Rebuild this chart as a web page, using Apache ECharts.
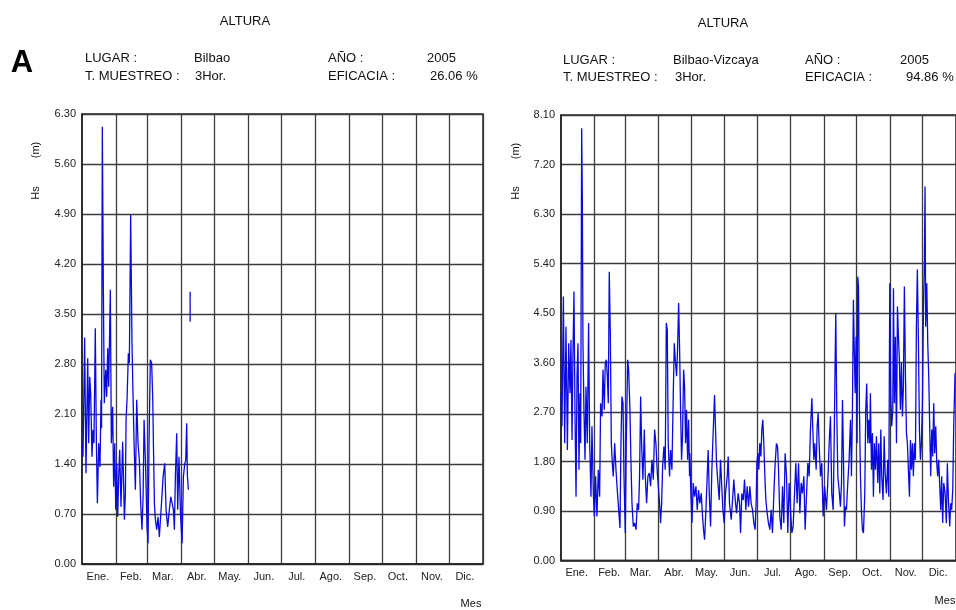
<!DOCTYPE html>
<html>
<head>
<meta charset="utf-8">
<script src="https://cdn.jsdelivr.net/npm/echarts@6/dist/echarts.min.js"></script>
<style>html,body{margin:0;padding:0;background:#fff}#c{width:956px;height:610px}</style>
</head>
<body>
<div id="c"></div>
<script>
// ---- Data ----
const months = ['Ene.','Feb.','Mar.','Abr.','May.','Jun.','Jul.','Ago.','Sep.','Oct.','Nov.','Dic.'];
const monthDays = [31,28,31,30,31,30,31,31,30,31,30,31];

// Left chart: Bilbao (day of year, Hs in m)
const leftDays = [0.0,0.9,2.4,3.6,5.2,6.1,7.0,7.9,9.1,10.0,10.9,12.1,13.1,14.0,15.2,16.4,17.3,17.8,18.5,19.4,20.3,21.6,22.5,23.4,24.3,25.8,26.7,27.9,28.8,29.8,30.7,31.6,32.5,33.4,34.3,35.5,37.0,38.6,39.5,40.1,41.0,42.2,43.1,44.3,45.5,46.4,47.4,48.6,49.8,51.0,52.2,53.4,54.6,55.6,56.5,57.7,59.2,60.1,61.0,62.2,63.4,64.4,65.0,65.9,66.8,68.0,69.2,70.4,71.6,72.9,73.8,75.3,76.5,78.0,79.5,80.8,82.0,83.2,84.1,85.0,86.2,87.1,88.3,89.6,91.1,92.3,93.5,94.4,95.3,95.9,96.8,97.6,98.4,98.45];
const leftHs = [1.69,1.50,3.17,1.27,2.88,1.69,2.62,2.39,1.50,1.88,1.69,3.30,1.69,0.85,1.69,1.36,2.30,1.90,6.12,3.93,2.25,2.72,2.34,3.02,2.48,3.84,1.69,2.20,1.08,1.69,0.76,1.41,0.66,1.22,1.60,0.80,1.71,0.62,0.99,2.02,2.30,2.95,2.81,4.89,3.09,2.39,1.69,1.04,2.30,1.69,1.46,0.85,0.48,0.94,2.02,1.46,0.52,0.29,1.69,2.86,2.81,2.30,1.69,0.85,0.62,0.48,0.66,0.38,0.66,0.99,1.22,1.41,0.76,0.52,0.76,0.94,0.94,0.76,0.48,1.22,1.83,0.76,1.50,0.71,0.29,1.22,1.40,1.45,1.97,1.25,1.04,null,3.81,3.39];

// Right chart: Bilbao-Vizcaya (day of year, Hs in m)
const rightDays = [0.0,0.9,2.2,3.4,4.6,5.9,7.1,8.3,9.2,10.2,11.1,12.0,12.9,13.9,14.8,15.7,16.6,17.5,18.2,19.1,19.7,20.3,21.2,22.2,23.1,24.3,25.5,26.5,27.7,28.6,29.9,30.8,32.0,33.2,34.5,35.7,36.6,37.9,38.8,40.0,40.9,41.9,42.8,43.7,44.6,45.6,46.5,47.4,48.3,49.6,50.8,52.0,53.3,54.5,55.4,56.3,57.3,58.2,59.4,60.3,61.6,62.5,63.7,64.6,65.6,66.8,68.0,69.3,70.5,71.7,72.6,73.6,74.5,75.7,77.0,77.9,79.1,80.3,81.6,82.8,84.0,85.3,86.5,87.7,89.0,90.2,91.1,92.0,93.0,93.9,95.1,96.3,97.3,98.2,99.1,100.3,101.3,102.5,103.7,104.7,105.6,106.8,107.7,108.7,109.6,110.5,111.4,112.3,113.3,114.2,115.1,116.0,117.0,117.9,118.8,
119.1,120.0,121.0,122.2,123.4,124.7,125.9,127.1,128.3,129.6,130.8,131.7,132.7,133.9,135.1,136.0,137.0,138.2,139.4,140.7,141.9,142.8,143.7,145.0,146.2,147.4,148.4,149.6,150.8,152.0,153.6,154.5,155.7,157.3,158.5,159.7,161.0,162.2,163.7,165.0,165.9,167.1,168.4,169.6,170.8,172.0,173.3,174.5,175.7,177.0,178.2,179.4,180.4,181.0,181.9,182.8,183.7,184.7,185.6,186.5,187.4,188.4,189.3,190.5,191.7,193.0,194.2,195.4,196.7,197.9,199.1,200.1,201.0,202.2,203.5,204.7,205.9,207.1,208.4,209.6,210.8,212.1,213.3,214.5,215.8,217.0,218.2,219.5,220.7,221.9,223.1,224.4,225.6,226.8,228.1,229.3,230.5,231.8,232.7,233.6,234.5,235.8,236.7,237.6,238.5,239.8,241.0,242.2,243.5,
244.1,245.3,246.5,247.8,249.0,250.2,251.5,252.4,253.3,253.9,254.8,255.8,257.0,258.2,259.2,260.1,261.0,261.9,262.9,263.8,265.0,266.2,267.5,268.4,269.3,270.2,270.9,271.8,272.7,273.6,274.2,274.9,275.8,276.7,277.6,278.5,279.5,280.7,281.6,282.5,283.5,284.4,285.3,285.9,286.9,287.8,288.7,289.6,290.6,291.5,292.7,293.6,294.6,295.5,296.4,297.6,298.6,299.5,300.7,301.9,302.9,303.8,304.7,305.6,306.6,307.2,308.1,309.0,310.0,310.9,311.8,312.7,313.6,314.6,315.5,316.4,317.3,318.3,319.2,320.1,321.0,322.0,322.9,323.8,324.7,325.6,326.6,327.5,328.4,329.3,330.3,331.2,332.1,333.0,334.0,334.9,335.8,336.4,337.0,338.0,338.9,339.8,340.7,341.6,342.6,343.5,344.4,345.3,346.3,347.2,348.1,349.0,350.0,350.9,351.8,352.7,353.7,354.9,356.1,357.0,358.0,359.2,360.1,361.0,362.0,362.9,363.5,364.1];
const rightHs = [3.04,2.44,4.80,2.13,4.25,2.01,3.95,3.04,4.01,2.19,3.83,4.89,2.74,1.16,3.35,3.95,1.65,3.04,2.13,7.86,6.62,3.95,2.74,1.83,3.16,2.13,4.32,2.13,1.16,2.44,1.22,0.80,1.53,0.80,1.65,1.16,2.86,2.62,3.47,2.74,3.59,3.65,3.35,2.86,5.25,4.07,2.13,1.77,1.53,2.13,1.65,1.28,0.92,0.59,2.13,2.98,2.86,1.53,0.50,2.13,3.65,3.47,2.74,1.83,1.04,0.62,0.68,0.56,1.04,0.92,1.53,2.98,2.13,1.47,2.38,1.53,1.04,1.53,1.59,1.35,1.83,1.47,2.38,2.13,1.59,1.28,1.04,0.68,1.04,1.71,2.07,1.65,4.32,4.19,2.13,1.53,2.01,1.65,2.98,3.95,3.65,3.35,3.83,4.68,3.83,2.74,1.83,2.26,3.47,3.16,2.13,2.74,1.83,2.56,1.53,
1.95,1.22,0.68,1.41,1.16,1.35,0.92,1.28,1.04,1.22,0.80,0.56,0.38,0.92,1.53,2.01,1.22,0.62,1.65,2.38,3.01,2.38,1.77,1.41,1.10,1.83,1.41,0.92,0.68,1.22,1.53,1.89,1.04,0.74,1.10,1.47,1.10,0.86,1.22,1.04,0.50,1.22,1.10,1.47,0.92,1.35,0.98,1.35,1.04,0.92,0.68,0.56,1.10,1.77,1.95,1.65,2.13,1.89,2.38,2.56,2.13,1.53,1.10,0.86,0.68,0.56,0.92,0.50,1.22,1.77,2.13,2.07,1.65,0.80,0.56,1.35,0.68,1.95,1.53,0.50,1.41,0.92,0.50,0.62,1.22,1.77,1.04,1.77,0.86,1.41,1.22,1.53,0.56,1.16,1.77,1.53,2.38,2.95,2.38,1.83,2.13,1.65,2.44,2.68,2.13,1.53,1.77,0.80,1.35,
1.22,0.92,1.41,2.13,2.62,1.22,0.92,2.13,3.59,4.50,2.74,1.53,1.28,0.98,1.41,2.92,1.89,0.62,0.98,0.92,1.41,1.83,2.56,1.53,2.74,4.74,3.95,3.04,4.07,2.13,5.16,4.98,2.74,1.53,0.92,0.56,0.50,1.22,2.74,3.22,2.13,2.56,2.13,3.04,1.65,2.32,1.16,2.13,1.65,2.26,1.41,2.13,1.22,2.38,1.53,1.10,2.26,1.59,1.22,1.83,1.16,5.04,3.04,2.44,2.74,4.95,2.86,4.07,2.13,4.62,4.07,3.65,2.74,3.59,2.62,3.16,4.98,3.35,2.32,2.13,1.65,1.16,2.19,1.65,2.13,1.53,2.13,1.83,4.25,5.29,3.95,2.38,1.83,2.13,2.86,4.56,5.47,6.80,4.25,5.04,3.95,3.35,2.44,1.53,2.38,1.89,2.86,1.95,2.44,1.77,1.53,1.83,1.35,0.92,1.53,0.68,1.41,1.22,0.68,1.77,1.10,0.62,1.04,0.92,1.28,2.44,2.92,3.41];

const leftYTicks = {min:0, max:6.3, interval:0.7};
const rightYTicks = {min:0, max:8.1, interval:0.9};

// ---- Helpers ----
const monthStart = [];
let acc = 0;
monthDays.forEach(d => { monthStart.push(acc); acc += d; });
const totalDays = acc;
const dayCats = Array.from({length: totalDays}, (_, i) => String(i));
const startSet = new Set(monthStart.filter(s => s > 0));
const labelIdx = {};
monthStart.forEach((s, m) => { labelIdx[s + Math.floor(monthDays[m] / 2) - 1] = m; });
function monthOfDay(i) { for (let m = 11; m >= 0; m--) if (i >= monthStart[m]) return m; return 0; }

const FONT = '"Liberation Sans", Arial, Helvetica, sans-serif';
const GRID_C = '#3c3c3c';

function catAxis(g) {
  return {
    type: 'category', gridIndex: g, data: dayCats, boundaryGap: true,
    axisLine: {show: true, lineStyle: {color: '#222', width: 1.5}},
    axisTick: {show: false},
    axisLabel: {
      interval: (i) => labelIdx.hasOwnProperty(i),
      formatter: (v, i) => months[monthOfDay(Number(v))],
      fontSize: 11, color: '#222', margin: 7, fontFamily: FONT
    },
    splitLine: {show: true, interval: (i) => startSet.has(i), lineStyle: {color: GRID_C, width: 1.3}}
  };
}
function valXAxis(g) {
  return {type: 'value', gridIndex: g, min: 0, max: totalDays, show: false};
}
function yAxis(g, t) {
  return {
    type: 'value', gridIndex: g, min: t.min, max: t.max, interval: t.interval,
    axisLine: {show: true, lineStyle: {color: '#222', width: 1.5}},
    axisTick: {show: false},
    axisLabel: {formatter: v => v.toFixed(2), fontSize: 11, color: '#222', margin: 6, fontFamily: FONT},
    splitLine: {show: true, lineStyle: {color: GRID_C, width: 1.3}}
  };
}
function pairs(xs, ys) { return xs.map((x, i) => [x, ys[i] === null ? '-' : ys[i]]); }

function txt(x, y, text, opts) {
  opts = opts || {};
  return {
    type: 'text', x: x, y: y, rotation: opts.rot || 0, silent: true,
    style: {
      text: text, fill: opts.color || '#111',
      font: (opts.weight || 'normal') + ' ' + (opts.size || 13) + 'px ' + FONT,
      textAlign: opts.align || 'left', textVerticalAlign: 'middle'
    }
  };
}

const graphics = [
  txt(245, 21, 'ALTURA', {align: 'center'}),
  txt(22, 63, 'A', {align: 'center', size: 31, weight: 'bold', color: '#000'}),
  txt(85, 58, 'LUGAR :'), txt(194, 58, 'Bilbao'), txt(328, 58, 'AÑO :'), txt(427, 58, '2005'),
  txt(85, 76, 'T. MUESTREO :'), txt(195, 76, '3Hor.'), txt(328, 76, 'EFICACIA :'), txt(430, 76, '26.06 %'),
  txt(36, 193, 'Hs', {size: 11, rot: Math.PI / 2, align: 'center'}),
  txt(36, 150, '(m)', {size: 11, rot: Math.PI / 2, align: 'center'}),
  txt(471, 604, 'Mes', {size: 11, align: 'center'}),

  txt(723, 23, 'ALTURA', {align: 'center'}),
  txt(563, 60, 'LUGAR :'), txt(673, 60, 'Bilbao-Vizcaya'), txt(805, 60, 'AÑO :'), txt(900, 60, '2005'),
  txt(563, 77, 'T. MUESTREO :'), txt(675, 77, '3Hor.'), txt(805, 77, 'EFICACIA :'), txt(906, 77, '94.86 %'),
  txt(516, 193, 'Hs', {size: 11, rot: Math.PI / 2, align: 'center'}),
  txt(516, 151, '(m)', {size: 11, rot: Math.PI / 2, align: 'center'}),
  txt(945, 601, 'Mes', {size: 11, align: 'center'})
];

const chart = echarts.init(document.getElementById('c'), null, {renderer: 'canvas'});
chart.setOption({
  animation: false,
  backgroundColor: '#fff',
  grid: [
    {left: 82, top: 114, width: 401, height: 450, show: true, borderColor: '#222', borderWidth: 1.5},
    {left: 561, top: 115, width: 395.3, height: 445.5, show: true, borderColor: '#222', borderWidth: 1.5}
  ],
  xAxis: [catAxis(0), valXAxis(0), catAxis(1), valXAxis(1)],
  yAxis: [yAxis(0, leftYTicks), yAxis(1, rightYTicks)],
  series: [
    {type: 'line', xAxisIndex: 1, yAxisIndex: 0, data: pairs(leftDays, leftHs), showSymbol: false,
     connectNulls: false, lineStyle: {color: '#0a0ae0', width: 1.3}, z: 5},
    {type: 'line', xAxisIndex: 3, yAxisIndex: 1, data: pairs(rightDays, rightHs), showSymbol: false,
     lineStyle: {color: '#0a0ae0', width: 1.3}, z: 5}
  ],
  graphic: graphics
});
</script>
</body>
</html>
